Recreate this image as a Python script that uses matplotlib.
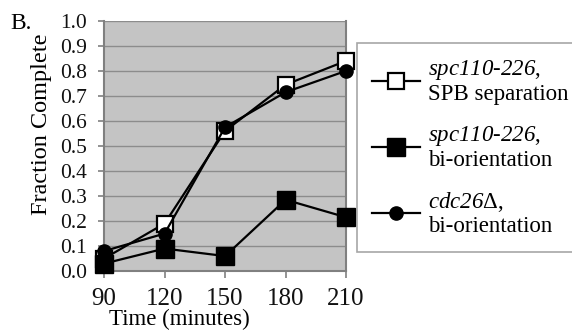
import matplotlib
matplotlib.use("Agg")
import matplotlib.pyplot as plt
from matplotlib.lines import Line2D

plt.rcParams['font.family'] = ['Liberation Serif', 'DejaVu Serif']
plt.rcParams['mathtext.fontset'] = 'custom'
plt.rcParams['mathtext.rm'] = 'Liberation Serif:italic'
plt.rcParams['mathtext.it'] = 'Liberation Serif:italic'

time = [90, 120, 150, 180, 210]
spb_sep = [0.05, 0.19, 0.56, 0.745, 0.84]
spc_biorient = [0.03, 0.09, 0.06, 0.285, 0.215]
cdc26_biorient = [0.08, 0.15, 0.575, 0.715, 0.80]
yticks = [0.0, 0.1, 0.2, 0.3, 0.4, 0.5, 0.6, 0.7, 0.8, 0.9, 1.0]
labels = [r"$\text{spc110-226}$," + "\nSPB separation",
          r"$\text{spc110-226}$," + "\nbi-orientation",
          r"$\text{cdc26}$Δ," + "\nbi-orientation"]

fig = plt.figure(figsize=(5.72, 3.31), dpi=100)
ax = fig.add_axes([0.182, 0.181, 0.423, 0.756])
ax.set_facecolor('#c4c4c4')

ax.plot(time, spb_sep, color='black', lw=1.6, marker='s', ms=11.5,
        mfc='white', mec='black', mew=1.6, clip_on=False, zorder=3)
ax.plot(time, spc_biorient, color='black', lw=1.6, marker='s', ms=13,
        mfc='black', mec='black', clip_on=False, zorder=3)
ax.plot(time, cdc26_biorient, color='black', lw=1.6, marker='o', ms=9.5,
        mfc='black', mec='black', clip_on=False, zorder=4)

ax.set_xlim(90, 210)
ax.set_ylim(0, 1.0)
ax.set_xticks(time)
ax.set_yticks(yticks)
ax.set_yticklabels([f"{v:.1f}" for v in yticks])
ax.yaxis.grid(True, color='#8c8c8c', lw=1.0)
ax.set_axisbelow(True)
for s in ax.spines.values():
    s.set_color('#808080')
    s.set_linewidth(1.5)
ax.spines['top'].set_visible(False)
ax.tick_params(axis='x', labelsize=18, labelcolor='#111111', length=5, width=1.2,
               color='#808080', pad=7)
ax.tick_params(axis='y', labelsize=15.5, labelcolor='#111111', length=4, width=1.2,
               color='#808080', pad=8.5)
ax.set_xlabel('Time (minutes)', fontsize=16.5)
ax.xaxis.set_label_coords(0.31, -0.152)
ax.set_ylabel('Fraction Complete', fontsize=17.5)
ax.yaxis.set_label_coords(-0.215, 0.585)

handles = [
    Line2D([], [], color='black', lw=1.6, marker='s', ms=11.5, mfc='white', mec='black', mew=1.6),
    Line2D([], [], color='black', lw=1.6, marker='s', ms=13, mfc='black', mec='black'),
    Line2D([], [], color='black', lw=1.6, marker='o', ms=9.5, mfc='black', mec='black'),
]
leg = fig.legend(handles, labels, loc='upper left', bbox_to_anchor=(0.624, 0.870),
                 borderaxespad=0, fontsize=16.5, frameon=True, fancybox=False,
                 edgecolor='#909090', handlelength=2.1, handletextpad=0.35,
                 labelspacing=0.85, borderpad=0.65)
leg.get_frame().set_linewidth(1.2)
for t in leg.get_texts():
    t.set_linespacing(1.1)

fig.text(0.018, 0.912, 'B.', fontsize=17)

fig.savefig('out.png', dpi=100)
